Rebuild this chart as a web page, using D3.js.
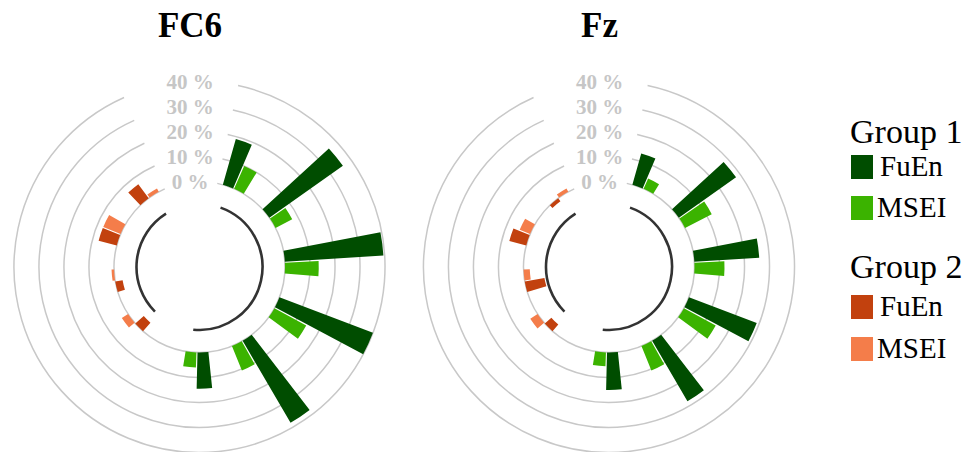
<!DOCTYPE html>
<html><head><meta charset="utf-8">
<script src="https://cdn.jsdelivr.net/npm/d3@7"></script>
<style>body{margin:0;background:#fff}svg{display:block}</style></head>
<body>
<svg id="chart" width="973" height="452"></svg>
<script>
// ---------- data ----------
const chartTitles = ["FC6", "Fz"];
const group1Cats = ["G1-1", "G1-2", "G1-3", "G1-4", "G1-5", "G1-6"];
const group2Cats = ["G2-1", "G2-2", "G2-3", "G2-4"];
const seriesNames = ["FuEn", "MSEI"];
const tickValues = [0, 10, 20, 30, 40];
const tickLabels = ["0 %", "10 %", "20 %", "30 %", "40 %"];

const fc6Group1FuEn = [19, 36, 39.5, 40, 38, 14.5];
const fc6Group1MSEI = [10, 7.5, 13.5, 14.5, 10.5, 6];
const fc6Group2FuEn = [-4.5, -3, 7.5, 7];
const fc6Group2MSEI = [3, 1, 7.5, 1.5];

const fzGroup1FuEn = [13, 28, 26, 29, 28, 15];
const fzGroup1MSEI = [4.5, 12, 12, 14.5, 10.5, 5.5];
const fzGroup2FuEn = [-3.5, -8, 7, -1.5];
const fzGroup2MSEI = [3.5, -2.5, 4.5, 1.5];

const legendGroups = ["Group 1", "Group 2"];

// ---------- styles ----------
const colors = {
  g1: {FuEn: "#004d00", MSEI: "#3bb300"},
  g2: {FuEn: "#c2410e", MSEI: "#f47d4a"}
};
const deg = Math.PI / 180;
const centers = [[199.5, 267], [609, 267]];
const serif = "'Liberation Serif','Times New Roman',Times,serif";

const svg = d3.select("#chart");

// scales
const y = d3.scaleLinear().domain([0, 40]).range([85.5, 185.5]);
const xG1 = d3.scaleBand().domain(group1Cats).range([15.85 * deg, 189.35 * deg]).paddingInner(0.516).paddingOuter(0);
const xG2 = d3.scaleBand().domain(group2Cats).range([221.35 * deg, 331.55 * deg]).paddingInner(0.516).paddingOuter(0);
const xSub = d3.scaleBand().domain(seriesNames).range([0, xG1.bandwidth()]).paddingInner(0.0875);

const chartData = [
  {title: chartTitles[0], g1: {FuEn: fc6Group1FuEn, MSEI: fc6Group1MSEI}, g2: {FuEn: fc6Group2FuEn, MSEI: fc6Group2MSEI}},
  {title: chartTitles[1], g1: {FuEn: fzGroup1FuEn, MSEI: fzGroup1MSEI}, g2: {FuEn: fzGroup2FuEn, MSEI: fzGroup2MSEI}}
];

const ringStart = 12 * deg, ringEnd = 336 * deg;
const innerArcR = 63;

function arcPath(r, a0, a1) {
  const p = d3.path();
  p.arc(0, 0, r, a0 - Math.PI / 2, a1 - Math.PI / 2);
  return p.toString();
}

chartData.forEach((cd, ci) => {
  const [cx, cy] = centers[ci];
  const g = svg.append("g").attr("transform", `translate(${cx},${cy})`);

  // rings
  g.selectAll("path.ring").data(tickValues).join("path")
    .attr("class", "ring")
    .attr("d", v => arcPath(y(v), ringStart, ringEnd))
    .attr("fill", "none").attr("stroke", "#c8c8c8").attr("stroke-width", 1.5);

  // bars
  const groups = [
    {key: "g1", cats: group1Cats, scale: xG1},
    {key: "g2", cats: group2Cats, scale: xG2}
  ];
  const arc = d3.arc();
  groups.forEach(gr => {
    const bars = [];
    gr.cats.forEach((c, i) => {
      seriesNames.forEach(s => {
        const v = cd[gr.key][s][i];
        const a0 = gr.scale(c) + xSub(s);
        bars.push({v, a0, a1: a0 + xSub.bandwidth(), color: colors[gr.key][s]});
      });
    });
    g.append("g").selectAll("path").data(bars).join("path")
      .attr("d", d => arc({innerRadius: y(Math.min(0, d.v)), outerRadius: y(Math.max(0, d.v)), startAngle: d.a0, endAngle: d.a1}))
      .attr("fill", d => d.color);

    // inner group arc
    const first = gr.scale(gr.cats[0]) + xSub(seriesNames[0]) + xSub.bandwidth() / 2;
    const last = gr.scale(gr.cats[gr.cats.length - 1]) + xSub(seriesNames[1]) + xSub.bandwidth() / 2;
    g.append("path").attr("d", arcPath(innerArcR, first, last))
      .attr("fill", "none").attr("stroke", "#333").attr("stroke-width", 2.6);
  });

  // tick labels
  g.selectAll("text.tick").data(tickValues).join("text")
    .attr("class", "tick")
    .attr("x", -9.5).attr("y", v => -y(v)).attr("dy", "0.35em")
    .attr("text-anchor", "middle")
    .attr("font-family", serif).attr("font-weight", "bold").attr("font-size", 21)
    .attr("fill", "#c6c6c6")
    .text((v, i) => tickLabels[i]);

  // title
  svg.append("text").attr("x", cx - 9.5).attr("y", 37)
    .attr("text-anchor", "middle")
    .attr("font-family", serif).attr("font-weight", "bold").attr("font-size", 35)
    .attr("fill", "#000").text(cd.title);
});

// legend
const legend = svg.append("g").attr("transform", "translate(850,0)");
const legendRows = [
  {type: "head", text: legendGroups[0], y: 143},
  {type: "item", text: seriesNames[0], color: colors.g1.FuEn, y: 155},
  {type: "item", text: seriesNames[1], color: colors.g1.MSEI, y: 196},
  {type: "head", text: legendGroups[1], y: 278},
  {type: "item", text: seriesNames[0], color: colors.g2.FuEn, y: 295},
  {type: "item", text: seriesNames[1], color: colors.g2.MSEI, y: 337}
];
legendRows.forEach(r => {
  if (r.type === "head") {
    legend.append("text").attr("x", 0).attr("y", r.y)
      .attr("font-family", serif).attr("font-size", 34).attr("fill", "#000").text(r.text);
  } else {
    legend.append("rect").attr("x", 1).attr("y", r.y).attr("width", 22).attr("height", 24).attr("fill", r.color);
    legend.append("text").attr("x", r.text === "FuEn" ? 30 : 27).attr("y", r.y + 21)
      .attr("font-family", serif).attr("font-size", 29).attr("fill", "#000").text(r.text);
  }
});
</script>
</body></html>
